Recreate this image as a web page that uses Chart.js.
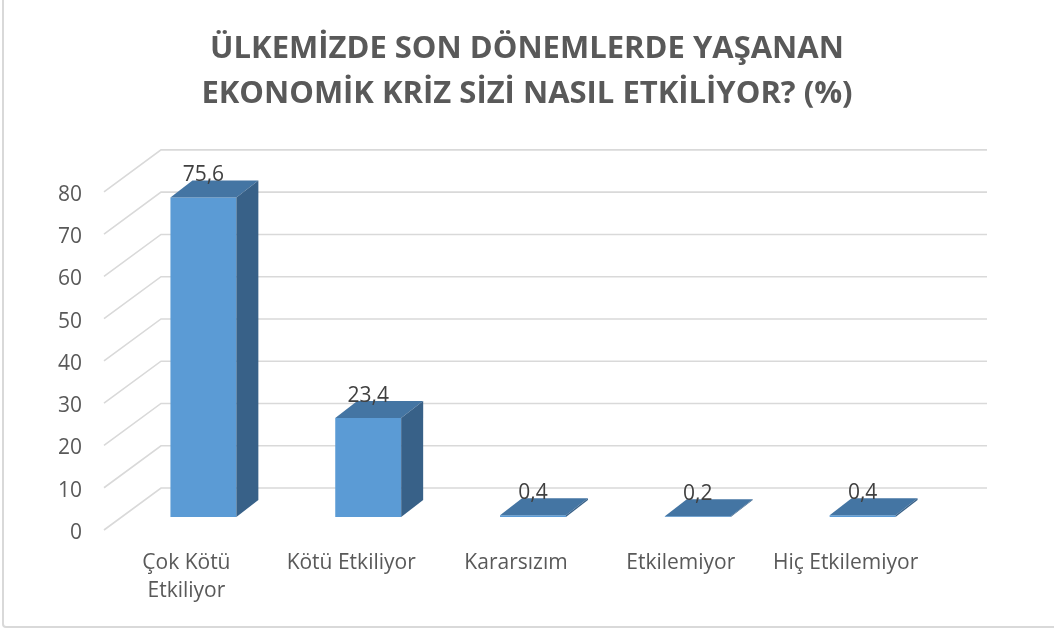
<!DOCTYPE html>
<html lang="tr">
<head>
  <meta charset="UTF-8">
  <title>Ekonomik Kriz Anketi</title>
  <script src="https://cdn.jsdelivr.net/npm/chart.js"></script>
  <style>
    html, body { margin: 0; padding: 0; background: #fff; }
    .wrap { position: relative; width: 1054px; height: 630px; }
    .frame { position: absolute; left: 2px; top: -4px; width: 1070px; height: 632px;
             border: 2px solid #d9d9d9; border-radius: 4px; box-sizing: border-box; pointer-events: none; }
  </style>
</head>
<body>
  <div class="wrap">
    <canvas id="krizChart"></canvas>
    <div class="frame"></div>
  </div>
  <script>
    const categories = [['Çok Kötü', 'Etkiliyor'], 'Kötü Etkiliyor', 'Kararsızım', 'Etkilemiyor', 'Hiç Etkilemiyor'];
    const percents = [75.6, 23.4, 0.4, 0.2, 0.4];
    const yTicks = [0, 10, 20, 30, 40, 50, 60, 70, 80];

    // 3D look: floor depth and where the bars sit inside it
    const WALL_DX = 57, WALL_DY = -42;
    const FRONT_DX = 17, FRONT_DY = -13;
    const BAR_DX = 22, BAR_DY = -17;

    const threeD = {
      id: 'threeD',
      beforeDatasetsDraw(chart) {
        const { ctx, chartArea, scales: { y } } = chart;
        ctx.save();
        ctx.strokeStyle = '#d9d9d9';
        ctx.lineWidth = 1.6;
        yTicks.forEach(v => {
          const py = y.getPixelForValue(v);
          ctx.beginPath();
          ctx.moveTo(chartArea.left, py);
          ctx.lineTo(chartArea.left + WALL_DX, py + WALL_DY);
          ctx.lineTo(chartArea.right + WALL_DX + 2, py + WALL_DY);
          ctx.stroke();
        });
        ctx.restore();
        ctx.save();
        ctx.translate(FRONT_DX, FRONT_DY);
      },
      afterDatasetsDraw(chart) {
        const { ctx } = chart;
        ctx.restore();
        const meta = chart.getDatasetMeta(0);
        ctx.save();
        meta.data.forEach((bar, i) => {
          const p = bar.getProps(['x', 'y', 'base', 'width'], true);
          const L = p.x - p.width / 2 + FRONT_DX, R = p.x + p.width / 2 + FRONT_DX;
          const T = p.y + FRONT_DY, B = p.base + FRONT_DY;
          // top face
          ctx.fillStyle = '#4475a3';
          ctx.beginPath();
          ctx.moveTo(L, T);
          ctx.lineTo(L + BAR_DX, T + BAR_DY);
          ctx.lineTo(R + BAR_DX, T + BAR_DY);
          ctx.lineTo(R, T);
          ctx.closePath();
          ctx.fill();
          // side face
          ctx.fillStyle = '#386188';
          ctx.beginPath();
          ctx.moveTo(R, T);
          ctx.lineTo(R + BAR_DX, T + BAR_DY);
          ctx.lineTo(R + BAR_DX, B + BAR_DY);
          ctx.lineTo(R, B);
          ctx.closePath();
          ctx.fill();
          // value label
          ctx.fillStyle = '#404040';
          ctx.font = '21px "Open Sans"';
          ctx.textAlign = 'center';
          ctx.textBaseline = 'alphabetic';
          ctx.fillText(String(percents[i]).replace('.', ','), (L + R) / 2, T + BAR_DY + 1);
        });
        ctx.restore();
      }
    };

    new Chart(document.getElementById('krizChart'), {
      type: 'bar',
      data: {
        labels: categories,
        datasets: [{
          data: percents,
          backgroundColor: '#5b9bd5',
          barPercentage: 0.4,
          categoryPercentage: 1.0
        }]
      },
      options: {
        responsive: true,
        maintainAspectRatio: false,
        animation: false,
        layout: { padding: 0 },
        plugins: {
          legend: { display: false },
          tooltip: { enabled: false },
          title: {
            display: true,
            text: ['ÜLKEMİZDE SON DÖNEMLERDE YAŞANAN', 'EKONOMİK KRİZ SİZİ NASIL ETKİLİYOR? (%)'],
            color: '#595959',
            font: { family: 'Open Sans', size: 31, weight: 'bold', lineHeight: 1.45 },
            padding: { top: 26.5, bottom: 75.5 },
            align: 'center'
          }
        },
        scales: {
          x: {
            grid: { display: false, drawTicks: false },
            border: { display: false },
            ticks: { color: '#595959', font: { family: 'Open Sans', size: 21, lineHeight: 1.33 }, padding: 19, maxRotation: 0, autoSkip: false },
            afterFit(scale) { scale.height = 100; }
          },
          y: {
            min: 0,
            max: 80,
            grid: { display: false, drawTicks: false },
            border: { display: false },
            ticks: { stepSize: 10, color: '#595959', font: { family: 'Open Sans', size: 21 }, padding: 22, labelOffset: 3 },
            afterFit(scale) { scale.width = 104; }
          },
          // empty right axis, only to leave room for the back wall
          yRight: {
            position: 'right',
            grid: { display: false, drawTicks: false },
            border: { display: false },
            ticks: { display: false },
            afterFit(scale) { scale.width = 126; }
          }
        }
      },
      plugins: [threeD]
    });
  </script>
</body>
</html>
